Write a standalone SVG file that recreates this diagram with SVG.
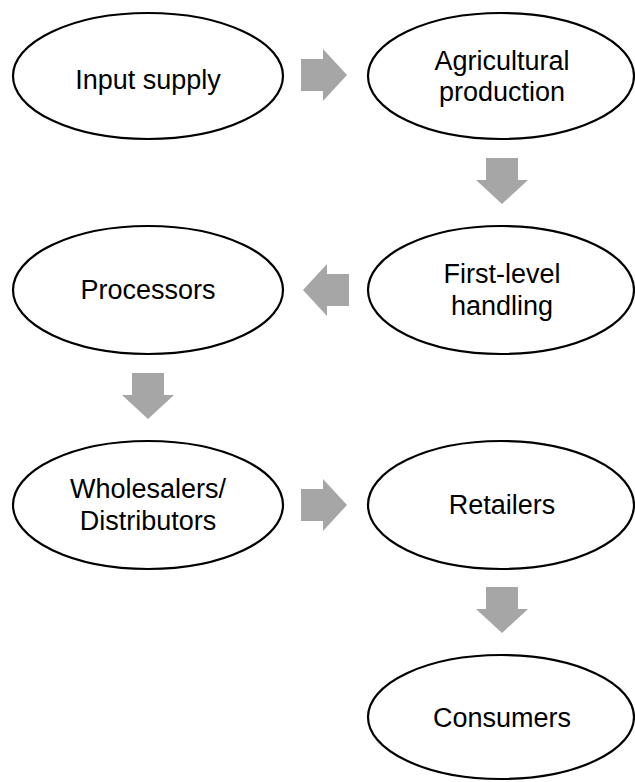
<svg xmlns="http://www.w3.org/2000/svg" width="635" height="782" viewBox="0 0 635 782">
  <style>
    .node ellipse { fill: #ffffff; stroke: #000000; stroke-width: 2.2; }
    .node text { font-family: "Liberation Sans", Arial, sans-serif; font-size: 27px; fill: #000000; text-anchor: middle; }
    .arrow { fill: #a6a6a6; stroke: none; }
  </style>
  <defs>
    <!-- block arrow pointing right, origin at tail centre -->
    <polygon id="blockArrow" points="0,-16 22,-16 22,-26 46,0 22,26 22,16 0,16"/>
  </defs>

  <g id="connectors">
    <use href="#blockArrow" class="arrow" transform="translate(301,75)"/>
    <use href="#blockArrow" class="arrow" transform="translate(502,158) rotate(90)"/>
    <use href="#blockArrow" class="arrow" transform="translate(349,290) rotate(180)"/>
    <use href="#blockArrow" class="arrow" transform="translate(148,373) rotate(90)"/>
    <use href="#blockArrow" class="arrow" transform="translate(301,505)"/>
    <use href="#blockArrow" class="arrow" transform="translate(502,587) rotate(90)"/>
  </g>

  <g id="input-supply" class="node">
    <ellipse cx="148" cy="76" rx="135" ry="63"/>
    <text x="148" y="89">Input supply</text>
  </g>

  <g id="agricultural-production" class="node">
    <ellipse cx="501" cy="76" rx="133" ry="63"/>
    <text x="502" y="70">Agricultural</text>
    <text x="502" y="101">production</text>
  </g>

  <g id="first-level-handling" class="node">
    <ellipse cx="501" cy="290" rx="133" ry="64"/>
    <text x="502" y="283">First-level</text>
    <text x="502" y="315">handling</text>
  </g>

  <g id="processors" class="node">
    <ellipse cx="148" cy="290" rx="135" ry="64"/>
    <text x="148" y="299">Processors</text>
  </g>

  <g id="wholesalers-distributors" class="node">
    <ellipse cx="148" cy="505" rx="135" ry="64"/>
    <text x="148" y="498">Wholesalers/</text>
    <text x="148" y="530">Distributors</text>
  </g>

  <g id="retailers" class="node">
    <ellipse cx="501" cy="505" rx="133" ry="64"/>
    <text x="502" y="514">Retailers</text>
  </g>

  <g id="consumers" class="node">
    <ellipse cx="501" cy="717" rx="133" ry="62"/>
    <text x="502" y="727">Consumers</text>
  </g>
</svg>
